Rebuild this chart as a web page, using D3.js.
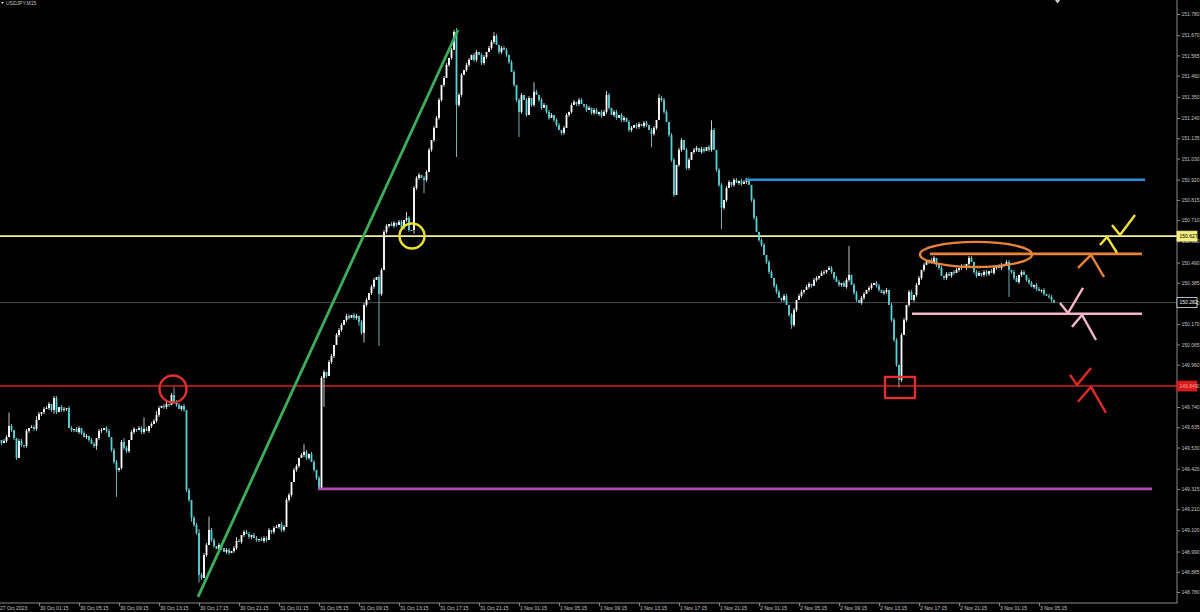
<!DOCTYPE html>
<html>
<head>
<meta charset="utf-8">
<script src="https://cdn.jsdelivr.net/npm/d3@7"></script>
<style>
  body { margin: 0; background: #000; }
  svg { display: block; background: #000; }
  text { font-family: "Liberation Sans", Arial, sans-serif; }
</style>
</head>
<body>
<svg id="chart" width="1200" height="612"></svg>
<script>
'use strict';

var symbol = 'USDJPY,M15';

// M15 closes per session day (open of each bar = previous close)
var firstOpen = 149.564;
var oct27 = [149.569,149.553,149.564,149.584,149.642,149.621,149.579,149.476,149.564,149.543,149.538];
var oct30 = [
  149.616,149.631,149.636,149.626,149.673,149.704,149.714,149.730,
  149.735,149.756,149.725,149.787,149.714,149.740,149.725,149.730,
  149.735,149.631,149.621,149.626,149.610,149.631,149.605,149.584,
  149.590,149.569,149.548,149.538,149.579,149.616,149.621,149.631,
  149.616,149.584,149.517,149.455,149.414,149.424,149.559,149.528,
  149.512,149.569,149.610,149.626,149.621,149.631,149.610,149.626,
  149.616,149.642,149.652,149.668,149.699,149.735,149.746,149.740,
  149.756,149.751,149.803,149.766,149.751,149.730,149.746,149.725,
  149.310,149.258,149.165,149.128,149.087,148.869,148.853,148.972,
  149.024,149.102,149.050,149.019,149.003,149.024,149.008,148.988,
  148.998,148.983,148.993,149.008,149.045,149.040,149.076,149.092,
  149.081,149.066,149.076,149.060,149.050,149.055,149.045,149.060];
var oct31 = [
  149.050,149.102,149.092,149.112,149.118,149.133,149.102,149.118,
  149.258,149.284,149.351,149.414,149.434,149.476,149.491,149.507,
  149.476,149.497,149.455,149.414,149.372,149.320,149.891,149.922,
  149.901,149.974,150.005,150.062,150.114,150.140,150.166,150.192,
  150.213,150.203,150.218,150.203,150.213,150.182,150.125,150.270,
  150.296,150.332,150.364,150.400,150.415,150.327,150.452,150.649,
  150.680,150.690,150.680,150.696,150.685,150.701,150.670,150.711,
  150.722,150.659,150.659,150.877,150.929,150.945,150.929,150.919,
  150.960,151.075,151.126,151.189,151.241,151.334,151.412,151.448,
  151.516,151.552,151.594,151.687,151.308,151.360,151.464,151.490,
  151.516,151.542,151.568,151.542,151.583,151.568,151.526,151.557,
  151.583,151.604,151.635,151.666,151.620,151.583,151.604,151.594];
var nov1 = [
  151.568,151.531,151.479,151.412,151.334,151.272,151.360,151.334,
  151.256,151.344,151.308,151.376,151.360,151.334,151.293,151.308,
  151.272,151.241,151.256,151.230,151.204,151.178,151.163,151.189,
  151.256,151.272,151.308,151.324,151.313,151.334,151.313,151.303,
  151.282,151.293,151.267,151.282,151.261,151.272,151.251,151.272,
  151.360,151.293,151.256,151.272,151.241,151.256,151.230,151.241,
  151.220,151.178,151.189,151.204,151.194,151.209,151.199,151.215,
  151.204,151.178,151.158,151.189,151.230,151.344,151.334,151.272,
  151.220,151.152,151.023,150.841,150.997,151.075,151.126,151.075,
  150.981,151.023,151.064,151.075,151.085,151.064,151.080,151.069,
  151.090,151.075,151.178,151.075,150.971,150.893,150.774,150.815,
  150.877,150.908,150.893,150.919,150.903,150.914,150.898,150.908];
var nov2 = [
  150.919,150.893,150.815,150.722,150.649,150.607,150.581,150.529,
  150.493,150.441,150.410,150.369,150.338,150.307,150.296,150.317,
  150.270,150.218,150.166,150.244,150.296,150.317,150.338,150.348,
  150.364,150.379,150.369,150.400,150.410,150.421,150.436,150.441,
  150.452,150.462,150.441,150.410,150.389,150.374,150.384,150.364,
  150.400,150.426,150.374,150.332,150.296,150.281,150.307,150.327,
  150.348,150.358,150.374,150.384,150.369,150.348,150.332,150.338,
  150.348,150.270,150.192,150.088,149.959,149.881,150.114,150.192,
  150.270,150.338,150.296,150.322,150.374,150.410,150.452,150.478,
  150.493,150.504,150.493,150.514,150.478,150.462,150.421,150.410,
  150.431,150.421,150.441,150.436,150.452,150.462,150.472,150.462,
  150.483,150.514,150.493,150.441,150.421,150.436,150.426,150.441];
var nov3 = [
  150.431,150.446,150.436,150.462,150.472,150.462,150.478,150.483,
  150.493,150.452,150.441,150.410,150.389,150.426,150.441,150.426,
  150.400,150.384,150.364,150.374,150.353,150.343,150.348,150.327,
  150.317,150.312,150.296,150.282];

// wick length in pips above / below the body
var oct27Up = [1,0,1,1,7,1,0,0,1,1,0];
var oct27Dn = [1,1,0,1,0,1,1,1,0,1,1];
var oct30Up = [1,0,1,1,2,1,0,1, 1,1,0,1,1,0,1,1, 0,1,1,0,1,1,0,1, 1,0,1,1,0,1,1,0,
  1,1,0,1,1,0,1,2, 1,0,1,1,0,1,1,6, 1,0,1,1,2,1,0,1, 1,0,1,4,1,1,0,1,
  0,1,0,1,1,2,1,1, 1,7,1,1,0,1,1,0, 1,1,0,1,2,1,0,1, 1,1,0,1,1,0,1,1];
var oct30Dn = [1,1,0,1,1,0,1,1, 0,1,1,2,1,0,1,1, 1,0,1,1,0,1,1,0, 1,1,0,1,2,1,1,0,
  1,0,1,1,14,1,1,1, 1,1,0,1,1,0,1,1, 0,1,1,0,1,1,0,1, 1,1,0,1,1,0,1,1,
  1,1,2,1,1,4,1,0, 1,0,1,1,0,1,1,0, 1,1,0,1,1,0,1,1, 0,1,1,0,1,1,0,1];
var oct31Up = [1,1,0,1,1,0,1,1, 1,1,0,1,1,0,1,4, 1,0,1,1,0,1,1,1, 0,1,1,0,1,1,1,0,
  1,1,0,1,1,0,1,1, 1,0,1,1,0,1,1,1, 1,0,1,1,0,1,1,0, 3,1,0,1,1,1,0,1,
  1,1,0,1,1,1,0,1, 1,0,1,1,2,1,1,0, 1,1,0,1,1,0,1,1, 0,1,1,2,1,0,1,1];
var oct31Dn = [1,0,1,1,0,1,1,1, 0,1,1,0,1,1,0,1, 1,1,0,1,1,1,1,15, 1,0,1,1,0,1,1,0,
  1,1,0,1,1,2,1,5, 1,0,1,1,0,27,1,0, 1,1,0,1,1,0,1,1, 1,1,0,2,1,1,0,7,
  1,0,1,1,0,1,1,1, 0,1,1,0,27,1,1,0, 1,1,0,1,1,0,1,1, 1,0,1,1,0,1,1,0];
var nov1Up = [1,0,1,1,0,1,1,0, 1,1,0,5,1,0,1,1, 0,1,1,0,1,1,0,1, 1,0,1,1,0,1,1,0,
  1,1,0,1,1,0,1,1, 2,1,0,1,1,0,1,1, 0,1,1,0,1,1,0,1, 1,0,1,1,0,2,1,1,
  1,0,1,1,0,1,1,0, 1,1,0,1,1,0,1,1, 0,1,5,1,0,1,1,0, 1,1,0,1,1,0,1,1];
var nov1Dn = [1,1,0,1,1,13,1,0, 1,0,1,1,0,1,1,0, 1,1,0,1,1,0,1,1, 0,1,1,0,1,1,0,1,
  1,0,1,1,0,1,1,0, 1,1,0,1,1,0,1,1, 0,1,1,0,1,1,0,1, 1,0,7,1,1,0,1,1,
  0,1,1,1,0,1,1,0, 1,1,0,1,1,0,1,1, 0,1,1,0,1,1,11,1, 1,0,1,1,0,1,1,0];
var nov2Up = [1,1,0,1,1,0,1,1, 0,1,1,0,1,1,0,1, 1,0,1,1,0,1,1,0, 1,1,0,1,1,0,1,1,
  0,1,1,0,1,1,0,1, 1,15,0,1,1,0,1,1, 0,1,1,0,1,1,0,1, 1,0,1,1,1,0,1,1,
  0,1,1,0,1,1,0,1, 1,0,1,1,0,1,1,0, 1,1,0,1,1,0,1,1, 0,1,1,0,1,1,0,1];
var nov2Dn = [1,0,1,1,0,1,1,0, 1,1,0,1,1,0,1,1, 0,1,2,1,1,0,1,1, 0,1,1,0,1,1,0,1,
  1,0,1,1,0,1,1,0, 1,1,0,1,1,0,1,1, 0,1,1,0,1,1,0,1, 1,0,1,1,1,4,1,0,
  1,1,0,1,1,0,1,1, 0,1,1,0,1,1,0,1, 1,0,1,1,0,1,1,0, 1,1,0,1,1,0,1,1];
var nov3Up = [1,0,1,1,0,1,1,0,1,1,0,1,1,0,1,1,0,1,1,0,1,1,0,1,0,1,1,0];
var nov3Dn = [1,1,0,1,1,0,1,1,0,14,1,1,0,1,1,0,1,1,0,1,1,0,1,1,0,1,1,0];

var timeLabels = ['27 Oct 2023',
  '30 Oct 01:15','30 Oct 05:15','30 Oct 09:15','30 Oct 13:15','30 Oct 17:15','30 Oct 21:15',
  '31 Oct 01:15','31 Oct 05:15','31 Oct 09:15','31 Oct 13:15','31 Oct 17:15','31 Oct 21:15',
  '1 Nov 01:15','1 Nov 05:15','1 Nov 09:15','1 Nov 13:15','1 Nov 17:15','1 Nov 21:15',
  '2 Nov 01:15','2 Nov 05:15','2 Nov 09:15','2 Nov 13:15','2 Nov 17:15','2 Nov 21:15',
  '3 Nov 01:15','3 Nov 05:15'];
var timeIdx = [0,16,32,48,64,80,96,112,128,144,160,176,192,208,224,240,256,272,288,
  304,320,336,352,368,384,400,416];
var priceTicks = [151.780,151.670,151.565,151.460,151.350,151.240,151.135,151.030,
  150.920,150.815,150.710,150.600,150.490,150.385,150.280,150.170,150.065,149.960,
  149.850,149.740,149.635,149.530,149.420,149.315,149.210,149.100,148.990,148.885,148.780];

// horizontal levels across the whole window
var yellowLevel = 150.627;
var redLevel = 149.849;

// drawn segments: [startBar, endBar, price]
var blueSeg = [298.5, 458.4, 150.920];
var orangeSeg = [372.4, 457.2, 150.535];
var pinkSeg = [365.2, 457.2, 150.224];
var purpleSeg = [127.6, 461.2, 149.315];
var greenTrend = [[79.6, 148.755], [183.6, 151.697]];

// markers: [bar, price]
var redCircle = [69.6, 149.834];
var yellowCircle = [165.2, 150.628];
var redBox = [[354.4, 149.896], [366.4, 149.787]];
var orangeOval = [[368.4, 150.597], [413.2, 150.467]];

// hand drawn ticks and carets: [bar, price] points
var marks = [
  { color: '#f2e23a', pts: [[445.2, 150.685], [448.4, 150.633], [454.4, 150.737]] },
  { color: '#f2e23a', pts: [[440.4, 150.581], [443.2, 150.623], [447.2, 150.540]] },
  { color: '#e8843a', pts: [[431.6, 150.462], [436.8, 150.530], [442.0, 150.415]] },
  { color: '#f3b6cc', pts: [[424.4, 150.280], [427.6, 150.228], [433.6, 150.358]] },
  { color: '#f3b6cc', pts: [[429.2, 150.156], [433.2, 150.218], [438.8, 150.088]] },
  { color: '#e02a2a', pts: [[428.4, 149.907], [431.2, 149.855], [436.8, 149.943]] },
  { color: '#e02a2a', pts: [[431.6, 149.767], [436.8, 149.845], [442.8, 149.710]] }
];

var plotRight = 1177, plotBottom = 603;
var svg = d3.select('#chart');

var x = d3.scaleLinear().domain([0, 471.2]).range([-1, plotRight]);
var y = d3.scaleLinear().domain([148.78, 151.78]).range([592, 14]);

// build bars
var days = [oct27, oct30, oct31, nov1, nov2, nov3];
var ups = [oct27Up, oct30Up, oct31Up, nov1Up, nov2Up, nov3Up];
var dns = [oct27Dn, oct30Dn, oct31Dn, nov1Dn, nov2Dn, nov3Dn];
var bars = [];
var prev = firstOpen;
days.forEach(function(day, di) {
  day.forEach(function(c, k) {
    var o = prev;
    bars.push({
      i: bars.length, o: o, c: c,
      h: Math.max(o, c) + ups[di][k] / 100,
      l: Math.min(o, c) - dns[di][k] / 100
    });
    prev = c;
  });
});
var lastPrice = bars[bars.length - 1].c;

var plot = svg.append('g');

// bid line
plot.append('line')
  .attr('x1', 0).attr('x2', plotRight)
  .attr('y1', y(lastPrice)).attr('y2', y(lastPrice))
  .attr('stroke', '#4a4a4a').attr('stroke-width', 1);

// full width levels
plot.append('line')
  .attr('x1', 0).attr('x2', plotRight)
  .attr('y1', y(yellowLevel)).attr('y2', y(yellowLevel))
  .attr('stroke', '#f4f0a0').attr('stroke-width', 1.6);
plot.append('line')
  .attr('x1', 0).attr('x2', plotRight)
  .attr('y1', y(redLevel)).attr('y2', y(redLevel))
  .attr('stroke', '#d42222').attr('stroke-width', 1.6);

// candles
var bull = '#ffffff', bear = '#55d2da';
var candle = plot.append('g').selectAll('g').data(bars).enter().append('g');
candle.append('line')
  .attr('x1', function(d) { return x(d.i); })
  .attr('x2', function(d) { return x(d.i); })
  .attr('y1', function(d) { return y(d.h); })
  .attr('y2', function(d) { return y(d.l); })
  .attr('stroke', function(d) { return d.c >= d.o ? '#dcdcdc' : '#86c2c6'; })
  .attr('stroke-width', 0.9);
candle.append('rect')
  .attr('x', function(d) { return x(d.i) - 0.9; })
  .attr('width', 1.8)
  .attr('y', function(d) { return y(Math.max(d.o, d.c)); })
  .attr('height', function(d) { return Math.max(0.8, Math.abs(y(d.o) - y(d.c))); })
  .attr('fill', function(d) { return d.c >= d.o ? bull : bear; });

// drawn segments
function seg(s, color) {
  plot.append('line')
    .attr('x1', x(s[0])).attr('x2', x(s[1]))
    .attr('y1', y(s[2])).attr('y2', y(s[2]))
    .attr('stroke', color).attr('stroke-width', 2.6);
}
seg(blueSeg, '#2f8fd2');
seg(orangeSeg, '#e8843a');
seg(pinkSeg, '#f3b6cc');
seg(purpleSeg, '#b04cb2');

plot.append('line')
  .attr('x1', x(greenTrend[0][0])).attr('y1', y(greenTrend[0][1]))
  .attr('x2', x(greenTrend[1][0])).attr('y2', y(greenTrend[1][1]))
  .attr('stroke', '#3cae5c').attr('stroke-width', 2.8);

// circles, box, oval
plot.append('circle')
  .attr('cx', x(redCircle[0])).attr('cy', y(redCircle[1])).attr('r', 13.5)
  .attr('fill', 'none').attr('stroke', '#e03030').attr('stroke-width', 2.4);
plot.append('circle')
  .attr('cx', x(yellowCircle[0])).attr('cy', y(yellowCircle[1])).attr('r', 12.5)
  .attr('fill', 'none').attr('stroke', '#ece22a').attr('stroke-width', 2.4);
plot.append('rect')
  .attr('x', x(redBox[0][0])).attr('y', y(redBox[0][1]))
  .attr('width', x(redBox[1][0]) - x(redBox[0][0]))
  .attr('height', y(redBox[1][1]) - y(redBox[0][1]))
  .attr('fill', 'none').attr('stroke', '#e03030').attr('stroke-width', 2.4);
plot.append('ellipse')
  .attr('cx', (x(orangeOval[0][0]) + x(orangeOval[1][0])) / 2)
  .attr('cy', (y(orangeOval[0][1]) + y(orangeOval[1][1])) / 2)
  .attr('rx', (x(orangeOval[1][0]) - x(orangeOval[0][0])) / 2)
  .attr('ry', (y(orangeOval[1][1]) - y(orangeOval[0][1])) / 2)
  .attr('fill', 'none').attr('stroke', '#e8843a').attr('stroke-width', 2.4);

var markLine = d3.line().x(function(p) { return x(p[0]); }).y(function(p) { return y(p[1]); });
plot.selectAll('path.mark').data(marks).enter().append('path')
  .attr('class', 'mark')
  .attr('d', function(m) { return markLine(m.pts); })
  .attr('fill', 'none')
  .attr('stroke', function(m) { return m.color; })
  .attr('stroke-width', 2.4)
  .attr('stroke-linejoin', 'round');

// axes
var axisColor = '#8a8a8a', labelColor = '#c4c4c4';
var yAxis = d3.axisRight(y).tickValues(priceTicks).tickFormat(d3.format('.3f'))
  .tickSize(3).tickPadding(1.5);
var gy = svg.append('g').attr('transform', 'translate(' + plotRight + ',0)').call(yAxis);
gy.select('.domain').remove();
gy.selectAll('line').attr('stroke', axisColor);
gy.selectAll('text').attr('fill', labelColor).style('font-size', '5px');

var xAxis = d3.axisBottom(x).tickValues(timeIdx)
  .tickFormat(function(d, j) { return timeLabels[j]; })
  .tickSize(3).tickPadding(0.5);
var gx = svg.append('g').attr('transform', 'translate(0,' + plotBottom + ')').call(xAxis);
gx.select('.domain').remove();
gx.selectAll('line').attr('stroke', axisColor);
gx.selectAll('text').attr('fill', labelColor).style('font-size', '5px')
  .attr('text-anchor', 'start').attr('x', 0.5);

svg.append('line').attr('x1', 0).attr('x2', plotRight + 0.5)
  .attr('y1', plotBottom).attr('y2', plotBottom).attr('stroke', axisColor);
svg.append('line').attr('x1', plotRight).attr('x2', plotRight)
  .attr('y1', 0).attr('y2', plotBottom).attr('stroke', axisColor);

// price boxes on the axis
function priceBox(price, fill, stroke, textColor) {
  var g = svg.append('g').attr('transform', 'translate(' + plotRight + ',' + y(price) + ')');
  g.append('rect').attr('x', 0).attr('y', -5).attr('width', 20).attr('height', 10)
    .attr('fill', fill).attr('stroke', stroke).attr('stroke-width', 0.8);
  g.append('text').attr('x', 2.5).attr('y', 1.8).text(d3.format('.3f')(price))
    .attr('fill', textColor).style('font-size', '5px');
}
priceBox(yellowLevel, '#f4ee80', '#f4ee80', '#000');
priceBox(lastPrice, '#000', '#e8e8e8', '#f0f0f0');
priceBox(redLevel, '#d41c1c', '#d41c1c', '#ff9a9a');

// title and shift marker
svg.append('path').attr('d', 'M1,2 L4,2 L2.5,4 Z').attr('fill', '#e0e0e0');
svg.append('text').attr('x', 6).attr('y', 5.2).text(symbol)
  .attr('fill', labelColor).style('font-size', '5px');
svg.append('path').attr('d', 'M1055,0 L1060,0 L1057.5,3.5 Z').attr('fill', '#d0d0d0');
</script>
</body>
</html>
